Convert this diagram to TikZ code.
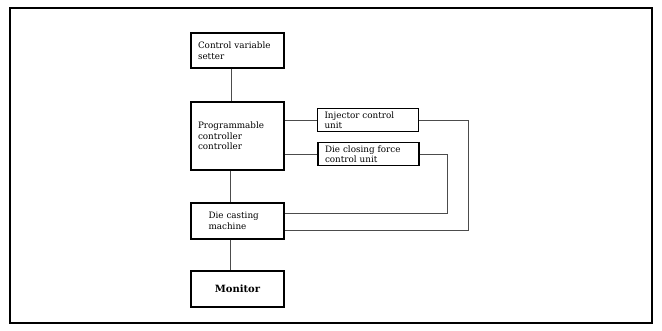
\documentclass[tikz,border=0pt]{standalone}
\usepackage{fontspec}
\setmainfont{DejaVu Serif}
\usepackage{tikz}
\usetikzlibrary{shapes,arrows,positioning}
\tikzstyle{block} = [rectangle, draw, line width=1.1pt, text width=79pt,
    inner xsep=7pt, align=left, minimum height=35pt]
\tikzstyle{unit} = [rectangle, draw, line width=1.1pt, text width=87pt,
    inner xsep=7pt, inner ysep=1pt, align=left, minimum height=23pt]
\tikzstyle{line} = [draw, line width=0.6pt, color=black!70]
\tikzstyle{frame} = [draw, line width=1.4pt]

\begin{document}
\begin{tikzpicture}[node distance = 85pt, auto]
  \fontsize{8.8}{10.5}\selectfont
    \useasboundingbox (0,0) rectangle (662pt,-331pt);
    \path [frame] (10pt,-8pt) rectangle (652pt,-323pt);
    % Place nodes
    \node [block] at (237.5pt,-50.5pt) (setter) {Control variable\\setter};
    \node [block, below of=setter, node distance=85.5pt, minimum height=68pt] (plc) {Programmable\\controller\\controller};
    \node [unit, right of=plc, node distance=130.5pt, yshift=16pt] (injector) {Injector control\\unit};
    \node [unit, right of=plc, node distance=131pt, yshift=-18pt] (closing) {Die closing force\\control unit};
    \node [block, below of=plc, minimum height=36pt, text width=58pt, inner xsep=17.5pt] (machine) {Die casting\\machine};
    \node [block, below of=machine, node distance=68pt, minimum height=36pt, align=center] (monitor) {\fontsize{10}{12}\selectfont\bfseries Monitor};

    % Draw edges
    \path [line] ([xshift=-6pt]setter.south) -- ([xshift=-6pt]plc.north);
    \path [line] ([xshift=-7pt]plc.south) -- ([xshift=-7pt]machine.north);
    \path [line] ([xshift=-7pt]machine.south) -- ([xshift=-7pt]monitor.north);
    \path [line] (plc.east |- injector.west) -- (injector.west);
    \path [line] (plc.east |- closing.west) -- (closing.west);
    \path [line] (injector.east) -- ++(49pt,0) |- ([yshift=-9pt]machine.east);
    \path [line] (closing.east) -- ++(28pt,0) |- ([yshift=8pt]machine.east);
\end{tikzpicture}
\end{document}
